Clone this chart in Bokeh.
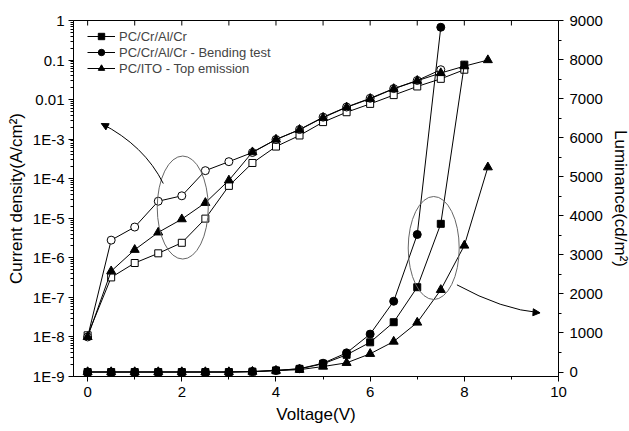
from bokeh.plotting import figure
from bokeh.models import (Range1d, LinearAxis, LinearScale, FixedTicker, Legend, LegendItem,
                          Arrow, NormalHead)
from bokeh.embed import file_html
from bokeh.resources import INLINE

# ---------------- data ----------------
v_sq = [0, 0.5, 1, 1.5, 2, 2.5, 3, 3.5, 4, 4.5, 5, 5.5, 6, 6.5, 7, 7.5, 8]
v_ci = [0, 0.5, 1, 1.5, 2, 2.5, 3, 3.5, 4, 4.5, 5, 5.5, 6, 6.5, 7, 7.5]
v_tr = [0, 0.5, 1, 1.5, 2, 2.5, 3, 3.5, 4, 4.5, 5, 5.5, 6, 6.5, 7, 7.5, 8, 8.5]

j_sq = [1.1e-8, 3.2e-7, 7.4e-7, 1.3e-6, 2.4e-6, 9.8e-6, 6.6e-5, 2.5e-4, 6.5e-4,
        1.24e-3, 2.7e-3, 4.8e-3, 7.8e-3, 1.3e-2, 2.15e-2, 3.35e-2, 5.7e-2]
j_ci = [1.0e-8, 2.8e-6, 6.0e-6, 2.7e-5, 3.7e-5, 1.6e-4, 2.7e-4, 4.6e-4, 9.8e-4,
        1.75e-3, 3.6e-3, 6.5e-3, 1.08e-2, 1.9e-2, 3.05e-2, 5.7e-2]
j_tr = [1.0e-8, 4.6e-7, 1.6e-6, 4.4e-6, 9.5e-6, 2.46e-5, 9.1e-5, 4.7e-4, 9.8e-4,
        1.73e-3, 3.5e-3, 6.4e-3, 1.05e-2, 1.87e-2, 3.0e-2, 4.7e-2, 7.0e-2, 1.0e-1]

l_sq = [0, 0, 0, 0, 0, 0, 0, 10, 40, 80, 210, 440, 760, 1275, 2171, 3794, 7870]
l_ci = [0, 0, 0, 0, 0, 0, 0, 10, 40, 85, 225, 490, 970, 1812, 3520, 8827]
l_tr = [0, 0, 0, 0, 0, 0, 0, 10, 35, 60, 140, 235, 466, 780, 1267, 2104, 3239, 5243]

series_names = ["PC/Cr/Al/Cr", "PC/Cr/Al/Cr - Bending test", "PC/ITO - Top emission"]

left_tick_exps = [-9, -8, -7, -6, -5, -4, -3, -2, -1, 0]
left_tick_labels = ["1E-9", "1E-8", "1E-7", "1E-6", "1E-5", "1E-4", "1E-3", "0.01", "0.1", "1"]
bottom_ticks = [0, 2, 4, 6, 8, 10]
top_ticks = [0, 1, 2, 3, 4, 5, 6, 7, 8, 9, 10]
right_ticks = [0, 1000, 2000, 3000, 4000, 5000, 6000, 7000, 8000, 9000]

# annotation geometry (voltage, luminance-axis units)
ell_x = [2.02, 7.35]
ell_y = [4211, 3175]
arrow1 = dict(x0=1.607, y0=4826, cx=1.204, cy=5799, x1=0.291, y1=6362, xs=0.412, ys=6285)
arrow2 = dict(x0=7.843, y0=2232, cx=8.798, cy=1598, x1=9.608, y1=1516, xs=9.481, ys=1528)

FONT = "Liberation Sans"
FRAME_W = 485
FRAME_H = 356
TOP_TICK_PX = 5

p = figure(frame_width=FRAME_W, frame_height=FRAME_H, output_backend="svg", toolbar_location=None,
           x_range=Range1d(-0.3, 10), y_range=Range1d(1e-9, 1), y_axis_type="log",
           min_border_left=73, min_border_right=71, min_border_top=20,
           min_border_bottom=55)
p.extra_y_ranges = {"lum": Range1d(-115, 9000)}
p.extra_y_scales = {"lum": LinearScale()}
p.xgrid.visible = False
p.ygrid.visible = False
p.outline_line_color = "black"
p.outline_line_width = 1
p.background_fill_color = "white"
p.border_fill_color = "white"

def style_axis(ax):
    ax.axis_line_color = "black"
    ax.major_tick_line_color = "black"
    ax.minor_tick_line_color = "black"
    ax.major_label_text_font = FONT
    ax.major_label_text_font_size = "15px"
    ax.major_label_text_color = "black"
    ax.axis_label_text_font = FONT
    ax.axis_label_text_font_size = "17px"
    ax.axis_label_text_font_style = "normal"
    ax.axis_label_text_color = "black"

# left axis
ly = p.yaxis[0]
minor = []
for e in left_tick_exps[:-1]:
    for m in range(2, 10):
        minor.append(float(f"{m}e{e}"))
ly.ticker = FixedTicker(ticks=[float(f"1e{e}") for e in left_tick_exps], minor_ticks=minor)
ly.major_label_overrides = {float(f"1e{e}"): lab for e, lab in zip(left_tick_exps, left_tick_labels)}
style_axis(ly)
ly.axis_label = "Current density(A/cm²)"
ly.major_tick_out = 5
ly.major_tick_in = 0
ly.minor_tick_out = 3
ly.minor_tick_in = 0
ly.major_label_standoff = 4
ly.axis_label_standoff = 4

# bottom axis
bx = p.xaxis[0]
bx.ticker = FixedTicker(ticks=bottom_ticks, minor_ticks=[1, 3, 5, 7, 9])
style_axis(bx)
bx.axis_label = "Voltage(V)"
bx.major_tick_out = 5
bx.major_tick_in = 0
bx.minor_tick_out = 3
bx.minor_tick_in = 0
bx.major_label_standoff = 5
bx.axis_label_standoff = 5

# right axis
ry = LinearAxis(y_range_name="lum",
                ticker=FixedTicker(ticks=right_ticks,
                                   minor_ticks=[t + 500 for t in right_ticks[:-1]]))
style_axis(ry)
ry.axis_label = "Luminance(cd/m²)"
ry.major_tick_out = 5
ry.major_tick_in = 0
ry.minor_tick_out = 3
ry.minor_tick_in = 0
ry.major_label_standoff = 6
ry.axis_label_standoff = 5
p.add_layout(ry, "right")

# top frame ticks (inward, 5 px)
tick_end = 10 ** (-TOP_TICK_PX * len(left_tick_exps[:-1]) / FRAME_H)
p.segment(x0=top_ticks, y0=[1.0] * len(top_ticks), x1=top_ticks,
          y1=[tick_end] * len(top_ticks), line_color="black", line_width=1)

# current density (open squares/circles, filled triangles)
p.line(v_sq, j_sq, line_color="black", line_width=1)
p.scatter(v_sq, j_sq, marker="square", size=7, fill_color="white", line_color="black")
p.line(v_ci, j_ci, line_color="black", line_width=1)
p.scatter(v_ci, j_ci, marker="circle", size=8, fill_color="white", line_color="black")
p.line(v_tr, j_tr, line_color="black", line_width=1)
p.scatter(v_tr, j_tr, marker="triangle", size=9, fill_color="black", line_color="black")

# luminance (filled)
r1l = p.line(v_sq, l_sq, line_color="black", line_width=1, y_range_name="lum")
r1s = p.scatter(v_sq, l_sq, marker="square", size=7, fill_color="black", line_color="black", y_range_name="lum")
r2l = p.line(v_ci, l_ci, line_color="black", line_width=1, y_range_name="lum")
r2s = p.scatter(v_ci, l_ci, marker="circle", size=8, fill_color="black", line_color="black", y_range_name="lum")
r3l = p.line(v_tr, l_tr, line_color="black", line_width=1, y_range_name="lum")
r3s = p.scatter(v_tr, l_tr, marker="triangle", size=9, fill_color="black", line_color="black", y_range_name="lum")

# annotations
p.ellipse(x=ell_x, y=ell_y, width=51, height=103, width_units="screen", height_units="screen",
          fill_color=None, line_color="#666666", line_width=1, y_range_name="lum")
for a in (arrow1, arrow2):
    p.quadratic(x0=[a["x0"]], y0=[a["y0"]], x1=[a["x1"]], y1=[a["y1"]],
                cx=[a["cx"]], cy=[a["cy"]], line_color="black", line_width=1,
                y_range_name="lum")
    p.add_layout(Arrow(end=NormalHead(size=7, fill_color="black", line_color="black"),
                       x_start=a["xs"], y_start=a["ys"], x_end=a["x1"], y_end=a["y1"],
                       line_color="black", line_width=1, y_range_name="lum"))

legend = Legend(items=[LegendItem(label=series_names[0], renderers=[r1l, r1s]),
                       LegendItem(label=series_names[1], renderers=[r2l, r2s]),
                       LegendItem(label=series_names[2], renderers=[r3l, r3s])],
                location=(14, 300), padding=0, spacing=0, margin=0,
                glyph_width=28, glyph_height=16, label_height=16, label_standoff=4,
                border_line_color=None, background_fill_alpha=0,
                label_text_font=FONT, label_text_font_size="13px")
p.add_layout(legend)

open("out.html", "w").write(file_html(p, INLINE))
